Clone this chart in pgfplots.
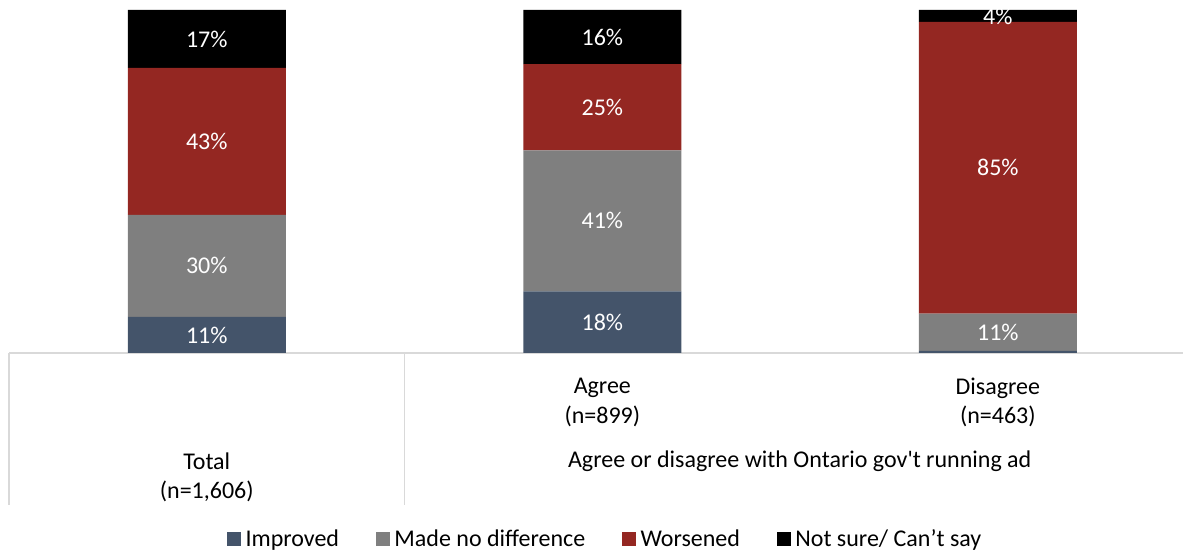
\documentclass[border=0pt]{standalone}
\usepackage{pgfplots}
\pgfplotsset{compat=1.18}
\usepackage{fontspec}
\setmainfont{Carlito}
\definecolor{cImp}{HTML}{44546A}
\definecolor{cNo}{HTML}{7F7F7F}
\definecolor{cWor}{HTML}{942722}
\definecolor{cNs}{HTML}{000000}
\definecolor{cLine}{HTML}{D9D9D9}
\newcommand{\lbl}{\fontsize{18}{22}\selectfont}
\begin{document}
\begin{tikzpicture}
\useasboundingbox (0,0) rectangle (887.25pt,414pt);
\pgfplotsset{
  common/.style={
    at={(6.75pt,149.25pt)}, anchor=south west,
    scale only axis, width=880.5pt, height=257.25pt,
    xmin=-0.5, xmax=2.468, ymin=0, ymax=100,
    axis lines=none, clip=false,
  }
}
\begin{axis}[common,
  ybar stacked, bar width=118.5pt,
  legend columns=4,
  legend style={draw=none, fill=none, at={(0.5089,-0.5423)}, anchor=center,
    font=\lbl,
    /tikz/every even column/.append style={column sep=24pt},
    nodes={inner xsep=3.5pt}},
  legend image code/.code={\fill[#1] (0pt,-5.25pt) rectangle (10.5pt,5.25pt);},
]
\addplot[fill=cImp, draw=none] coordinates {(0,10.5) (1,18.0) (2,0.6)};
\addlegendentry{Improved}
\addplot[fill=cNo, draw=none] coordinates {(0,29.8) (1,41.1) (2,10.9)};
\addlegendentry{Made no difference}
\addplot[fill=cWor, draw=none] coordinates {(0,42.8) (1,25.1) (2,85.0)};
\addlegendentry{Worsened}
\addplot[fill=cNs, draw=none] coordinates {(0,16.9) (1,15.8) (2,3.5)};
\addlegendentry{Not sure/ Can’t say}
% category frame
\draw[cLine, line width=1pt] (rel axis cs:0,0) -- (rel axis cs:1,0);
\draw[cLine, line width=1pt] (axis cs:-0.5,0) -- (axis cs:-0.5,-44.3);
\draw[cLine, line width=1pt] (axis cs:0.5,0) -- (axis cs:0.5,-44.3);
\end{axis}
\begin{axis}[common]
\addplot[draw=none, nodes near coords, point meta=explicit symbolic,
  nodes near coords style={anchor=center, text=white, font=\lbl}]
  coordinates {
   (0,5.25)[11\%] (0,25.4)[30\%] (0,61.7)[43\%] (0,91.55)[17\%]
   (1,9.0)[18\%] (1,38.55)[41\%] (1,71.65)[25\%] (1,92.1)[16\%]
   (2,6.05)[11\%] (2,54.0)[85\%] (2,98.0)[4\%]
  };
\node[align=center, font=\lbl, text=black] at (axis cs:1,-14.43) {Agree\\(n=899)};
\node[align=center, font=\lbl, text=black] at (axis cs:2,-14.43) {Disagree\\(n=463)};
\node[align=center, font=\lbl, text=black] at (axis cs:0,-36.3) {Total\\(n=1,606)};
\node[align=center, font=\lbl, text=black] at (axis cs:1.499,-31.49) {Agree or disagree with Ontario gov\textquotesingle t running ad};
\end{axis}
\end{tikzpicture}
\end{document}
